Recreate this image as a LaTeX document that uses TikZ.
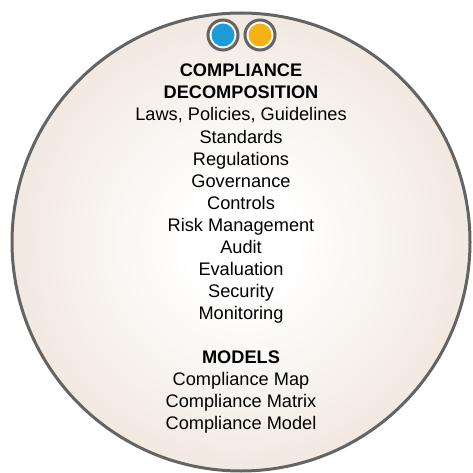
\documentclass[tikz,border=0pt]{standalone}
\usepackage{fontspec}
\setmainfont{Liberation Sans}
\definecolor{discedge}{RGB}{224,204,184}
\definecolor{discline}{RGB}{100,100,100}
\definecolor{dotblue}{RGB}{27,155,216}
\definecolor{dotorange}{RGB}{246,178,18}
\pgfdeclareradialshading{discshade}{\pgfpoint{0bp}{0bp}}{color(0bp)=(white); color(6bp)=(white); color(50bp)=(discedge)}
\begin{document}
\begin{tikzpicture}[x=1pt,y=-1pt,
    txt/.style={anchor=base, inner sep=0pt, font=\fontsize{18.2}{22}\selectfont},
    head/.style={txt, font=\fontsize{18.2}{22}\selectfont\bfseries},
    ring/.style={circle, draw=discline, line width=3pt, fill=white, inner sep=0pt, minimum size=30pt},
    core/.style={circle, inner sep=0pt, minimum size=23pt}]
    \useasboundingbox (0,0) rectangle (472,473);
    \shadedraw[shading=discshade, draw=discline, line width=3pt] (241,242) circle (229pt);
    \node[ring] (bluering) at (223,35) {};
    \node[core, fill=dotblue] (bluedot) at (bluering.center) {};
    \node[ring] (orangering) at (260,35) {};
    \node[core, fill=dotorange] (orangedot) at (orangering.center) {};
    \node[head] (title1) at (241,77) {COMPLIANCE};
    \node[head] (title2) at (241,99) {DECOMPOSITION};
    \node[txt] (laws) at (241,121) {Laws, Policies, Guidelines};
    \node[txt] (standards) at (241,143) {Standards};
    \node[txt] (regulations) at (241,165) {Regulations};
    \node[txt] (governance) at (241,187) {Governance};
    \node[txt] (controls) at (241,209) {Controls};
    \node[txt] (risk) at (241,231) {Risk Management};
    \node[txt] (audit) at (241,253) {Audit};
    \node[txt] (evaluation) at (241,275) {Evaluation};
    \node[txt] (security) at (241,297) {Security};
    \node[txt] (monitoring) at (241,319) {Monitoring};
    \node[head] (models) at (241,363) {MODELS};
    \node[txt] (map) at (241,385) {Compliance Map};
    \node[txt] (matrix) at (241,407) {Compliance Matrix};
    \node[txt] (model) at (241,429) {Compliance Model};
\end{tikzpicture}
\end{document}
